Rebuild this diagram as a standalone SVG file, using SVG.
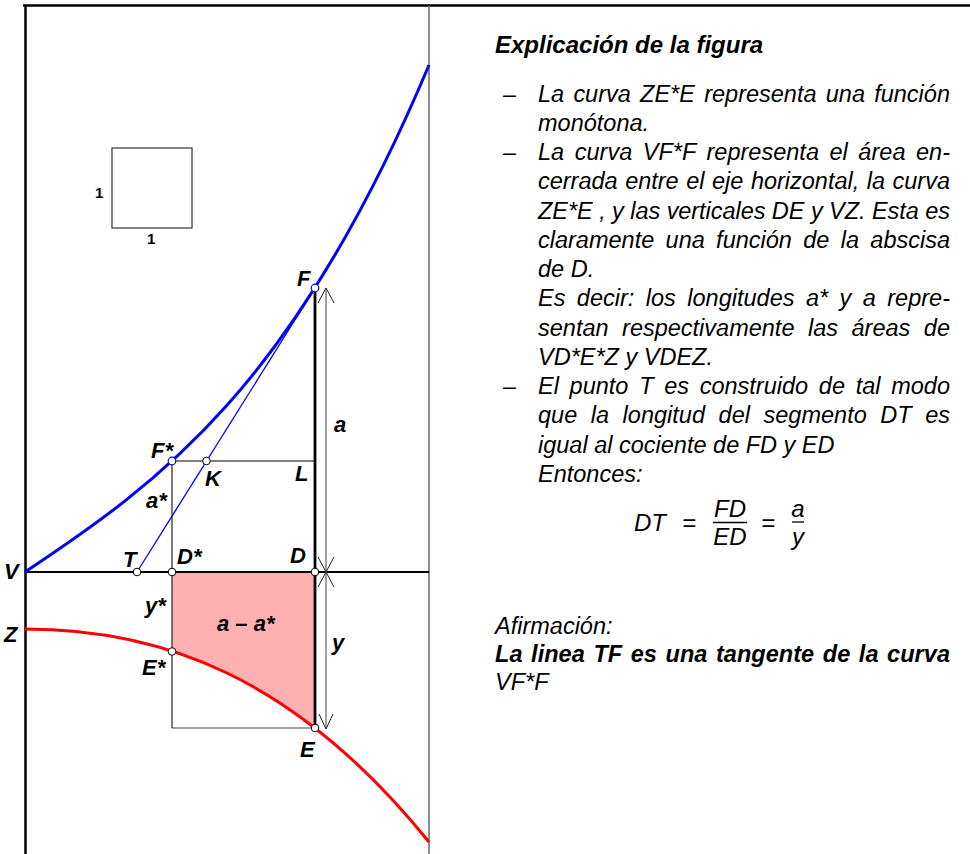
<svg xmlns="http://www.w3.org/2000/svg" width="970" height="854" viewBox="0 0 970 854">
<style>
.lbl{font-family:"Liberation Sans",Arial,sans-serif;font-weight:bold;font-style:italic;font-size:22px;fill:#000}
.one{font-family:"Liberation Sans",Arial,sans-serif;font-weight:bold;font-size:15px;fill:#000}
.txt{font-family:"Liberation Sans",Arial,sans-serif;font-style:italic;font-size:23.5px;fill:#000}
.bt{font-family:"Liberation Sans",Arial,sans-serif;font-style:italic;font-weight:bold;font-size:23.5px;fill:#000}
.fm{font-family:"Liberation Sans",Arial,sans-serif;font-style:italic;font-size:24px;fill:#000}
.pt{fill:#fff;stroke:#000;stroke-width:1}
.ptb{fill:#fff;stroke:#0000ff;stroke-width:1.2}
.ah{fill:none;stroke:#222;stroke-width:1}
</style>
<rect width="970" height="854" fill="#fff"/>
<g id="frame">
<line x1="23" y1="5.5" x2="970" y2="5.5" stroke="#000" stroke-width="2.5"/>
<line x1="25.5" y1="5" x2="25.5" y2="854" stroke="#000" stroke-width="2.5"/>
<line x1="429" y1="6" x2="429" y2="854" stroke="#808080" stroke-width="1.8"/>
</g>
<g id="unit-square">
<rect x="112" y="148" width="80" height="80" fill="none" stroke="#333" stroke-width="1.2"/>
<text class="one" x="95" y="198">1</text>
<text class="one" x="147" y="244">1</text>
</g>
<g id="area">
<polygon points="172,572 315,572 315,728 302,718.2 289,709 276,700.4 263,692.4 250,684.9 237,678 224,671.6 211,665.7 198,660.3 185,655.4 172,651" fill="#ffb0b0"/>
</g>
<g id="connectors">
<line x1="25" y1="572" x2="429" y2="572" stroke="#000" stroke-width="2"/>
<line x1="172" y1="461" x2="315" y2="461" stroke="#555" stroke-width="1.3"/>
<line x1="172" y1="461" x2="172" y2="728" stroke="#222" stroke-width="1.2"/>
<line x1="172" y1="728" x2="315" y2="728" stroke="#444" stroke-width="1.2"/>
<line x1="315" y1="288" x2="315" y2="728" stroke="#000" stroke-width="2.8"/>
<line x1="137" y1="572" x2="315" y2="288" stroke="#0000ff" stroke-width="1.3"/>
<line x1="326" y1="288" x2="326" y2="729" stroke="#808080" stroke-width="1.5"/>
<path class="ah" d="M318,303 L326,288 L334,303"/>
<path class="ah" d="M318,557 L326,572 L334,557"/>
<path class="ah" d="M318,587 L326,572 L334,587"/>
<path class="ah" d="M319,714 L326,729 L333,714"/>
<path d="M25,572 C159.67,482.4 294.33,386 429,65" fill="none" stroke="#0000ff" stroke-width="3"/>
<path d="M25,629 C159.67,629 294.33,675.33 429,842" fill="none" stroke="#ff0000" stroke-width="3"/>
</g>
<g id="F"><circle class="ptb" cx="315" cy="288" r="3.8"/><text class="lbl" x="297" y="286">F</text></g>
<g id="Fstar"><circle class="ptb" cx="172" cy="461" r="3.8"/><text class="lbl" x="151" y="458">F*</text></g>
<g id="K"><circle class="pt" cx="206.5" cy="461" r="3.8"/><text class="lbl" x="205" y="486">K</text></g>
<g id="L"><text class="lbl" x="295" y="481">L</text></g>
<g id="a"><text class="lbl" x="334" y="432">a</text></g>
<g id="astar"><text class="lbl" x="146" y="508">a*</text></g>
<g id="T"><circle class="pt" cx="137" cy="572" r="3.8"/><text class="lbl" x="123" y="567">T</text></g>
<g id="Dstar"><circle class="pt" cx="172" cy="572" r="3.8"/><text class="lbl" x="177" y="564">D*</text></g>
<g id="D"><circle class="pt" cx="315" cy="572" r="3.8"/><text class="lbl" x="290" y="563">D</text></g>
<g id="V"><text class="lbl" x="4" y="579">V</text></g>
<g id="Z"><text class="lbl" x="4" y="642">Z</text></g>
<g id="ystar"><text class="lbl" x="145" y="613">y*</text></g>
<g id="diff"><text class="lbl" x="217" y="631">a – a*</text></g>
<g id="y"><text class="lbl" x="332" y="650">y</text></g>
<g id="Estar"><circle class="pt" cx="172" cy="651.5" r="3.8"/><text class="lbl" x="142" y="675">E*</text></g>
<g id="E"><circle class="pt" cx="315" cy="728" r="3.8"/><text class="lbl" x="300" y="757">E</text></g>
<g id="explanation">
<text class="bt" x="495" y="53" style="font-size:24px">Explicación de la figura</text>
<text class="txt" x="503" y="101.5">–</text>
<text class="txt" x="538" y="101.5" textLength="412" lengthAdjust="spacing" style="word-spacing:2.7px">La curva ZE*E representa una función</text>
<text class="txt" x="538" y="130.75">monótona.</text>
<text class="txt" x="503" y="160">–</text>
<text class="txt" x="538" y="160" textLength="412" lengthAdjust="spacing" style="word-spacing:4px">La curva VF*F representa el área en-</text>
<text class="txt" x="538" y="189.25" textLength="412" lengthAdjust="spacing" style="word-spacing:1px">cerrada entre el eje horizontal, la curva</text>
<text class="txt" x="538" y="218.5" textLength="412" lengthAdjust="spacing">ZE*E , y las verticales DE y VZ. Esta es</text>
<text class="txt" x="538" y="247.75" textLength="412" lengthAdjust="spacing" style="word-spacing:4.8px">claramente una función de la abscisa</text>
<text class="txt" x="538" y="277">de D.</text>
<text class="txt" x="538" y="306.25" textLength="412" lengthAdjust="spacing" style="word-spacing:4.9px">Es decir: los longitudes a* y a repre-</text>
<text class="txt" x="538" y="335.5" textLength="412" lengthAdjust="spacing" style="word-spacing:7px">sentan respectivamente las áreas de</text>
<text class="txt" x="538" y="364.75">VD*E*Z y VDEZ.</text>
<text class="txt" x="503" y="394">–</text>
<text class="txt" x="538" y="394" textLength="412" lengthAdjust="spacing" style="word-spacing:4.2px">El punto T es construido de tal modo</text>
<text class="txt" x="538" y="423.25" textLength="412" lengthAdjust="spacing" style="word-spacing:7px">que la longitud del segmento DT es</text>
<text class="txt" x="538" y="452.5">igual al cociente de FD y ED</text>
<text class="txt" x="538" y="481.75">Entonces:</text>
</g>
<g id="formula">
<text class="fm" x="634" y="531">DT</text>
<text class="fm" x="682" y="531">=</text>
<text class="fm" x="730" y="517" text-anchor="middle">FD</text>
<line x1="713" y1="522.5" x2="747" y2="522.5" stroke="#000" stroke-width="1.3"/>
<text class="fm" x="730" y="545" text-anchor="middle">ED</text>
<text class="fm" x="761" y="531">=</text>
<text class="fm" x="798" y="517" text-anchor="middle">a</text>
<line x1="792" y1="522" x2="804" y2="522" stroke="#000" stroke-width="1.3"/>
<text class="fm" x="798" y="545" text-anchor="middle">y</text>
</g>
<g id="claim">
<text class="txt" x="495" y="634">Afirmación:</text>
<text class="bt" x="495" y="662" textLength="455" lengthAdjust="spacing" style="word-spacing:2px">La linea TF es una tangente de la curva</text>
<text class="txt" x="495" y="690">VF*F</text>
</g>
</svg>
